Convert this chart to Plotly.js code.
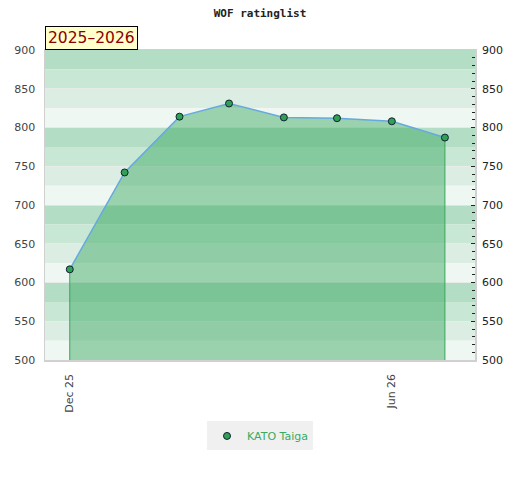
<!DOCTYPE html>
<html><head><meta charset="utf-8">
<script src="https://cdn.plot.ly/plotly-3.0.1.min.js"></script>
<style>body{margin:0;background:#fff}#c{width:520px;height:480px}</style>
</head><body><div id="c"></div>
<script>
const dates = ['2025-12-01','2026-01-01','2026-02-01','2026-03-01','2026-04-01','2026-05-01','2026-06-01','2026-07-01'];
const ratings = [617, 742, 814, 831, 813, 812, 808, 787];
const playerName = 'KATO Taiga';
const seasonLabel = '2025–2026';
const tickDates = ['2025-12-01','2026-06-01'];
const tickLabels = ['Dec 25','Jun 26'];
const yMin = 500, yMax = 900;
const bandColors = ['#b3ddc4','#c8e7d4','#dceee3','#eff7f2'];

const shapes = [];
for (let v = yMax, i = 0; v > yMin; v -= 25, i++) {
  shapes.push({type:'rect', xref:'paper', yref:'y', x0:0, x1:1, y0:v-25, y1:v,
    fillcolor: bandColors[i % 4], line:{width:0}, layer:'below'});
}

const n = dates.length;
const traces = [
  {x: dates, y: ratings, type:'scatter', mode:'lines', fill:'tozeroy',
   fillcolor:'rgba(60,170,100,0.48)', line:{color:'#66a9e0', width:1.5},
   hoverinfo:'skip', showlegend:false},
  {x: [dates[0], dates[0], null, dates[n-1], dates[n-1]],
   y: [yMin, ratings[0], null, yMin, ratings[n-1]],
   type:'scatter', mode:'lines', line:{color:'#3aa65a', width:1},
   hoverinfo:'skip', showlegend:false},
  {x: dates, y: ratings, type:'scatter', mode:'markers', name: playerName,
   marker:{color:'#30a055', size:7, line:{color:'#123', width:1}}},
  {x: dates, y: ratings, type:'scatter', mode:'none', yaxis:'y2', hoverinfo:'skip', showlegend:false}
];

const layout = {
  width:520, height:480,
  margin:{l:45, r:45, t:50, b:120},
  paper_bgcolor:'#fff', plot_bgcolor:'#fff',
  title:{text:'WOF ratinglist', x:0.5, xanchor:'center', y:0.973, yanchor:'middle',
    font:{family:'DejaVu Sans Mono', size:11, color:'#222', weight:'bold'}},
  xaxis:{type:'date', range:['2025-11-17','2026-07-18'], tickvals: tickDates, ticktext: tickLabels,
    tickangle:-90, showgrid:false, zeroline:false, showline:true, linecolor:'#d0d0d0', linewidth:1.5,
    ticks:'outside', ticklen:8, tickcolor:'rgba(0,0,0,0)',
    tickfont:{family:'DejaVu Sans', size:11, color:'#444'}, mirror:true, fixedrange:true},
  yaxis:{range:[yMin,yMax], dtick:50, showgrid:true, gridcolor:'rgba(235,235,235,0.7)', gridwidth:1,
    zeroline:false, showline:true, linecolor:'#d0d0d0', linewidth:1.5,
    ticks:'outside', ticklen:6, tickcolor:'rgba(0,0,0,0)',
    tickfont:{family:'DejaVu Sans', size:11, color:'#444'}, mirror:true},
  yaxis2:{range:[yMin,yMax], dtick:50, overlaying:'y', side:'right', showgrid:false, zeroline:false,
    ticks:'inside', ticklen:4, tickcolor:'#222', tickwidth:1, ticklabelstandoff:6,
    minor:{dtick:10, ticks:'inside', ticklen:3, tickcolor:'#222', tickwidth:1},
    tickfont:{family:'DejaVu Sans', size:11, color:'#222'}},
  shapes: shapes,
  showlegend:true,
  legend:{orientation:'h', x:0.5, xanchor:'center', y:-0.245, yanchor:'middle',
    bgcolor:'#f0f0f0', font:{family:'DejaVu Sans', size:11, color:'#3aaa60'}, itemwidth:30},
  annotations:[{text: seasonLabel, xref:'paper', yref:'paper', x:0, y:1, xanchor:'left', yanchor:'bottom',
    showarrow:false, bgcolor:'#ffffcc', bordercolor:'#000', borderwidth:1, borderpad:2,
    font:{family:'DejaVu Sans', size:15.5, color:'#8b0000'}}]
};
Plotly.newPlot('c', traces, layout, {displayModeBar:false, staticPlot:true});
</script></body></html>
